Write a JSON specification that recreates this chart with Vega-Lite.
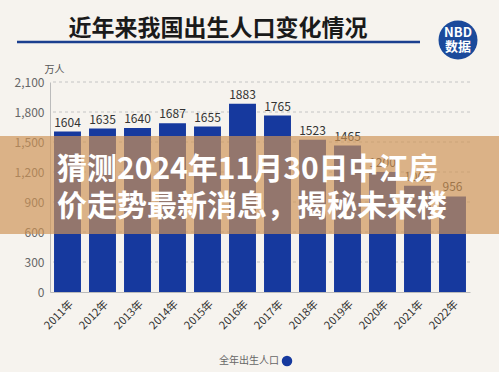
{
  "$schema": "https://vega.github.io/schema/vega-lite/v6.json",
  "autosize": "none",
  "width": 420,
  "height": 210,
  "padding": {"left": 50, "top": 82, "right": 29, "bottom": 80},
  "background": "#f6f3ee",
  "config": {
    "view": {"stroke": null},
    "font": "Noto Sans CJK SC",
    "axisY": {
      "titleAngle": 0,
      "titleX": 14,
      "titleY": -13,
      "titleAlign": "right",
      "titleBaseline": "middle",
      "titleFontSize": 10,
      "titleFontWeight": "normal",
      "titleColor": "#555555",
      "labelColor": "#666666",
      "labelFontSize": 12,
      "labelPadding": 6,
      "ticks": false,
      "domainColor": "#bbbbbb",
      "grid": false
    },
    "axisX": {
      "labelAngle": -45,
      "labelFontSize": 11,
      "labelColor": "#333333",
      "ticks": false,
      "domainColor": "#bbbbbb",
      "labelPadding": 6,
      "grid": false
    }
  },
  "title": {
    "text": "近年来我国出生人口变化情况",
    "fontSize": 23,
    "fontWeight": "bold",
    "color": "#1a1a1a",
    "anchor": "middle",
    "dx": -42,
    "offset": -20
  },
  "datasets": {
    "births": [
      {"year": "2011年", "births": 1604, "series": "全年出生人口"},
      {"year": "2012年", "births": 1635, "series": "全年出生人口"},
      {"year": "2013年", "births": 1640, "series": "全年出生人口"},
      {"year": "2014年", "births": 1687, "series": "全年出生人口"},
      {"year": "2015年", "births": 1655, "series": "全年出生人口"},
      {"year": "2016年", "births": 1883, "series": "全年出生人口"},
      {"year": "2017年", "births": 1765, "series": "全年出生人口"},
      {"year": "2018年", "births": 1523, "series": "全年出生人口"},
      {"year": "2019年", "births": 1465, "series": "全年出生人口"},
      {"year": "2020年", "births": 1200, "series": "全年出生人口"},
      {"year": "2021年", "births": 1062, "series": "全年出生人口"},
      {"year": "2022年", "births": 956, "series": "全年出生人口"}
    ],
    "gridlines": [
      {"level": 300}, {"level": 600}, {"level": 900}, {"level": 1200},
      {"level": 1500}, {"level": 1800}, {"level": 2100}
    ],
    "banner": [
      {"line": "猜测2024年11月30日中江房", "level": 1225},
      {"line": "价走势最新消息，揭秘未来楼", "level": 855}
    ]
  },
  "layer": [
    {
      "data": {"name": "gridlines"},
      "mark": {"type": "rule", "color": "#c4c4c4", "strokeDash": [3, 3], "strokeWidth": 1},
      "encoding": {
        "y": {
          "field": "level",
          "type": "quantitative",
          "scale": {"domain": [0, 2100], "nice": false, "zero": true},
          "axis": {
            "values": [0, 300, 600, 900, 1200, 1500, 1800, 2100],
            "labelExpr": "format(datum.value, ',')",
            "title": "万人",
            "grid": false
          }
        }
      }
    },
    {
      "data": {"name": "births"},
      "mark": {"type": "bar"},
      "encoding": {
        "x": {
          "field": "year",
          "type": "ordinal",
          "sort": null,
          "scale": {"paddingInner": 0.23, "paddingOuter": 0.115},
          "axis": {"title": null}
        },
        "y": {
          "field": "births",
          "type": "quantitative",
          "axis": {"values": [0, 300, 600, 900, 1200, 1500, 1800, 2100], "grid": false}
        },
        "color": {
          "field": "series",
          "type": "nominal",
          "scale": {"range": ["#16399e"]},
          "legend": {
            "title": null,
            "orient": "none",
            "legendX": 231,
            "legendY": 273,
            "symbolType": "circle",
            "symbolSize": 110,
            "labelFontSize": 10,
            "labelColor": "#666666",
            "labelAlign": "right",
            "labelOffset": -14
          }
        }
      }
    },
    {
      "data": {"name": "births"},
      "mark": {"type": "text", "dy": -9, "fontSize": 12, "color": "#333333"},
      "encoding": {
        "x": {"field": "year", "type": "ordinal", "sort": null},
        "y": {"field": "births", "type": "quantitative", "axis": {"values": [0, 300, 600, 900, 1200, 1500, 1800, 2100], "grid": false}},
        "text": {"field": "births", "type": "quantitative", "format": "d"}
      }
    },
    {
      "data": {"values": [{"top": 1560, "bottom": 580}]},
      "mark": {"type": "rect", "color": "#cf9356", "opacity": 0.68, "clip": false},
      "encoding": {
        "x": {"value": -50},
        "x2": {"value": 449},
        "y": {"field": "top", "type": "quantitative", "axis": {"values": [0, 300, 600, 900, 1200, 1500, 1800, 2100], "grid": false}},
        "y2": {"field": "bottom"}
      }
    },
    {
      "data": {"name": "banner"},
      "mark": {"type": "text", "align": "left", "baseline": "middle", "fontSize": 30, "fontWeight": "bold", "color": "#ffffff", "clip": false},
      "encoding": {
        "x": {"value": 7},
        "y": {"field": "level", "type": "quantitative", "axis": {"values": [0, 300, 600, 900, 1200, 1500, 1800, 2100], "grid": false}},
        "text": {"field": "line"}
      }
    },
    {
      "data": {"values": [{"level": 2500}]},
      "mark": {"type": "rule", "color": "#1b3f8f", "strokeWidth": 2.5, "clip": false},
      "encoding": {
        "x": {"value": -33},
        "x2": {"value": 370},
        "y": {"field": "level", "type": "quantitative", "axis": {"values": [0, 300, 600, 900, 1200, 1500, 1800, 2100], "grid": false}}
      }
    },
    {
      "data": {"values": [{"level": 2520}]},
      "mark": {"type": "point", "filled": true, "shape": "circle", "size": 1520, "color": "#1b4a9b", "opacity": 1, "clip": false},
      "encoding": {
        "x": {"value": 408},
        "y": {"field": "level", "type": "quantitative", "axis": {"values": [0, 300, 600, 900, 1200, 1500, 1800, 2100], "grid": false}}
      }
    },
    {
      "data": {"values": [{"t": "NBD", "level": 2590}, {"t": "数据", "level": 2450}]},
      "mark": {"type": "text", "fontSize": 13, "fontWeight": "bold", "color": "#ffffff", "baseline": "middle", "clip": false},
      "encoding": {
        "x": {"value": 408},
        "y": {"field": "level", "type": "quantitative", "axis": {"values": [0, 300, 600, 900, 1200, 1500, 1800, 2100], "grid": false}},
        "text": {"field": "t"}
      }
    }
  ]
}
